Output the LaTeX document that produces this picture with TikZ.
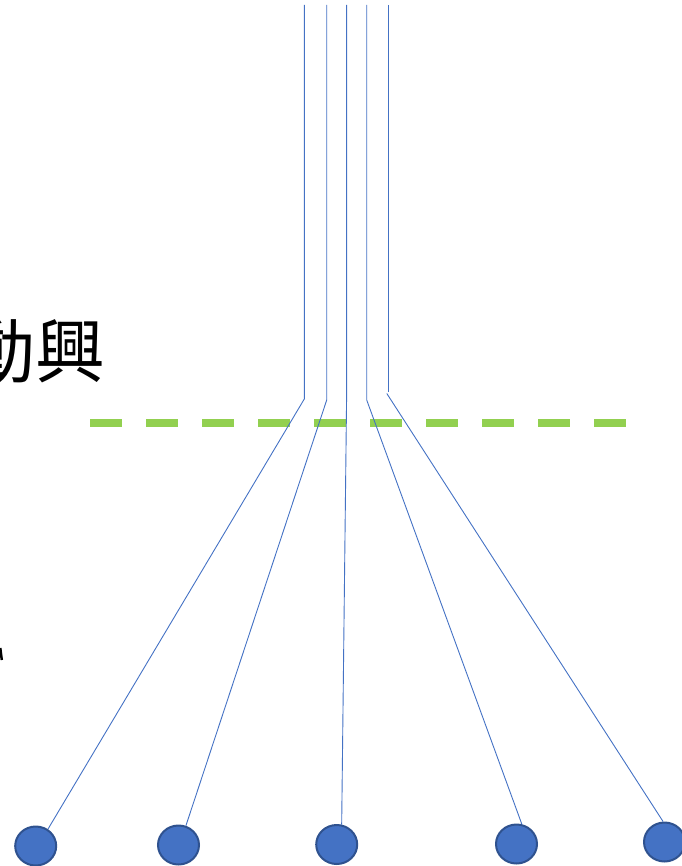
\documentclass[tikz,border=0pt]{standalone}
\usepackage{fontspec}
\newfontfamily\cjk{Noto Sans CJK TC}
\usetikzlibrary{shapes.geometric}
\definecolor{offblue}{HTML}{4472C4}
\definecolor{offblueedge}{HTML}{2F528F}
\definecolor{offgreen}{HTML}{92D050}
\tikzset{
  wire/.style={draw=offblue, line width=0.9pt},
  ball/.style={ellipse, draw=offblueedge, fill=offblue, line width=2pt, minimum width=41pt, minimum height=39pt, inner sep=0pt},
  cut/.style={draw=offgreen, line width=8pt, dash pattern=on 32pt off 24pt},
}
\begin{document}
\begin{tikzpicture}[x=1pt,y=-1pt]
\useasboundingbox (0,0) rectangle (681,866);
% text
\node[anchor=base west, inner sep=0pt, font=\cjk\fontsize{70}{70}\selectfont] (title) at (-35,377) {動興};
\draw[line width=2.5pt] (0.3,648) -- (1.8,660);
% circles
\node[ball] (c1) at (35.7,846) {};
\node[ball] (c2) at (178.5,845) {};
\node[ball] (c3) at (336.7,844.5) {};
\node[ball] (c4) at (516.5,844) {};
\node[ball] (c5) at (664.5,842) {};
% top ends and bends
\coordinate (t1) at (304.3,5);
\coordinate (t2) at (326.7,5);
\coordinate (t3) at (346.6,5);
\coordinate (t4) at (366.7,5);
\coordinate (t5) at (388.8,5);
\coordinate (b1) at (304.3,399);
\coordinate (b2) at (326.7,400);
\coordinate (b3) at (346.6,397);
\coordinate (b4) at (366.7,400);
\coordinate (b5) at (388.8,392);
\coordinate (d5) at (386.8,393.5);
% dashed line
\coordinate (g1) at (90,423);
\coordinate (g2) at (626,423);
\draw[cut] (g1) -- (g2);
% wires
\draw[wire] (t1) -- (b1) -- (c1.54);
\draw[wire] (t2) -- (b2) -- (c2.69);
\draw[wire] (t3) -- (b3) -- (c3.76);
\draw[wire] (t4) -- (b4) -- (c4.75);
\draw[wire] (t5) -- (b5);
\draw[wire] (d5) -- (c5.94);
\end{tikzpicture}
\end{document}
